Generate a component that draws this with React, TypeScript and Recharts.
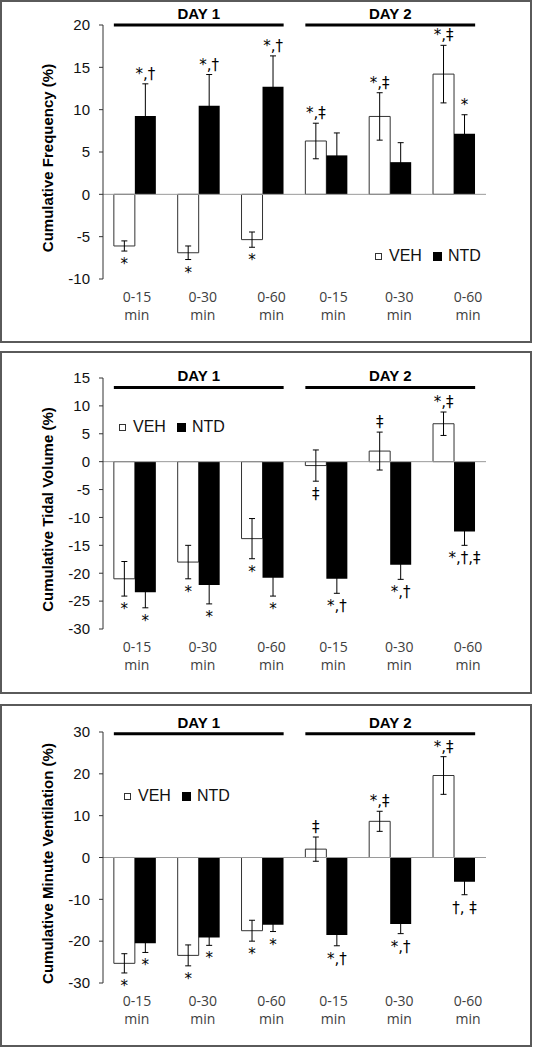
import React from 'react';
import {
  BarChart, Bar, XAxis, YAxis, ErrorBar, LabelList, ReferenceLine, Legend
} from 'recharts';

// categories: three cumulative windows on each of two days
const SLOTS = ['d1-15', 'd1-30', 'd1-60', 'd2-15', 'd2-30', 'd2-60'];
const TIME_LABELS = ['0-15', '0-30', '0-60', '0-15', '0-30', '0-60'];
const SERIES = ['VEH', 'NTD'];
const DAYS = [
  { label: 'DAY 1', from: 'd1-15', to: 'd1-60', count: 3 },
  { label: 'DAY 2', from: 'd2-15', to: 'd2-60', count: 3 },
];

// Cumulative Frequency (%)
const FREQ_VEH = [-6.1, -6.9, -5.35, 6.3, 9.2, 14.2];
const FREQ_VEH_ERR = [0.6, 0.8, 0.9, 2.1, 2.8, 3.4];
const FREQ_NTD = [9.25, 10.45, 12.7, 4.6, 3.8, 7.15];
const FREQ_NTD_ERR = [3.8, 3.7, 3.65, 2.65, 2.3, 2.25];
const FREQ_VEH_MARKS = ['*', '*', '*', '*,‡', '*,‡', '*,‡'];
const FREQ_NTD_MARKS = ['*,†', '*,†', '*,†', '', '', '*'];
const FREQ_TICKS = [-10, -5, 0, 5, 10, 15, 20];

// Cumulative Tidal Volume (%)
const VT_VEH = [-21.0, -18.0, -13.8, -0.7, 1.9, 6.8];
const VT_VEH_ERR = [3.1, 3.0, 3.6, 2.8, 3.4, 2.1];
const VT_NTD = [-23.4, -22.1, -20.8, -21.0, -18.5, -12.5];
const VT_NTD_ERR = [2.8, 3.4, 3.3, 2.6, 2.6, 2.5];
const VT_VEH_MARKS = ['*', '*', '*', '‡', '‡', '*,‡'];
const VT_NTD_MARKS = ['*', '*', '*', '*,†', '*,†', '*,†,‡'];
const VT_TICKS = [-30, -25, -20, -15, -10, -5, 0, 5, 10, 15];

// Cumulative Minute Ventilation (%)
const VE_VEH = [-25.3, -23.4, -17.5, 2.0, 8.65, 19.6];
const VE_VEH_ERR = [2.3, 2.5, 2.5, 2.9, 2.4, 4.5];
const VE_NTD = [-20.5, -19.1, -16.1, -18.5, -15.9, -5.8];
const VE_NTD_ERR = [2.2, 1.9, 1.6, 2.6, 2.3, 3.1];
const VE_VEH_MARKS = ['*', '*', '*', '‡', '*,‡', '*,‡'];
const VE_NTD_MARKS = ['*', '*', '*', '*,†', '*,†', '†, ‡'];
const VE_TICKS = [-30, -20, -10, 0, 10, 20, 30];

const PANELS = [
  {
    title: 'Cumulative Frequency (%)',
    veh: FREQ_VEH, vehErr: FREQ_VEH_ERR, ntd: FREQ_NTD, ntdErr: FREQ_NTD_ERR,
    vehMarks: FREQ_VEH_MARKS, ntdMarks: FREQ_NTD_MARKS,
    ticks: FREQ_TICKS, domain: [-10, 20], dayY: 20,
    top: 0, margin: { top: 25, right: 49, bottom: 20, left: 43 },
    legend: { left: 375, top: 247 },
  },
  {
    title: 'Cumulative Tidal Volume (%)',
    veh: VT_VEH, vehErr: VT_VEH_ERR, ntd: VT_NTD, ntdErr: VT_NTD_ERR,
    vehMarks: VT_VEH_MARKS, ntdMarks: VT_NTD_MARKS,
    ticks: VT_TICKS, domain: [-30, 15], dayY: 13.3,
    top: 351, margin: { top: 27, right: 49, bottom: 21, left: 43 },
    legend: { left: 119, top: 67 },
  },
  {
    title: 'Cumulative Minute Ventilation (%)',
    veh: VE_VEH, vehErr: VE_VEH_ERR, ntd: VE_NTD, ntdErr: VE_NTD_ERR,
    vehMarks: VE_VEH_MARKS, ntdMarks: VE_NTD_MARKS,
    ticks: VE_TICKS, domain: [-30, 30], dayY: 29.6,
    top: 704, margin: { top: 28, right: 49, bottom: 20, left: 43 },
    legend: { left: 124, top: 83 },
  },
];

const ARIAL = '"Liberation Sans", Arial, sans-serif';
const CALIBRI = '"Open Sans", "Liberation Sans", sans-serif';
const MARK_FONT = '"DejaVu Sans", "Liberation Sans", sans-serif';
const SPAN_INSET = 0.17; // day bars start at the first bar edge, not the category edge
const TICK_NUDGE = [2, 4, 9, 7, 9, 14];

const SlotTick = (props: any) => {
  const { x, y, payload } = props;
  let i = payload?.index;
  if (i == null) i = SLOTS.indexOf(payload?.value);
  const cx = x + (TICK_NUDGE[i] ?? 0);
  return (
    <g>
      <text x={cx} y={y + 23} textAnchor="middle" fontSize={14} fill="#404040" fontFamily={CALIBRI}>
        {TIME_LABELS[i]}
      </text>
      <text x={cx} y={y + 41} textAnchor="middle" fontSize={14} fill="#404040" fontFamily={CALIBRI}>
        min
      </text>
    </g>
  );
};

const AxisTitle = (props: any) => {
  const vb = props.viewBox || props;
  const x = vb.x + 4;
  const y = vb.y + vb.height / 2 + 6;
  return (
    <text
      x={x} y={y} transform={`rotate(-90 ${x} ${y})`}
      textAnchor="middle" dominantBaseline="central"
      fontSize={15} fontWeight={700} fill="#000" fontFamily={ARIAL}
    >
      {props.text}
    </text>
  );
};

// the segment runs between band centres; stretch it out to the outer bar edges
const daySpanShape = (count: number) => (p: any) => {
  const cat = (p.x2 - p.x1) / (count - 1);
  const ext = cat * (0.5 - SPAN_INSET);
  return (
    <line
      x1={p.x1 - ext} y1={p.y1} x2={p.x2 + ext} y2={p.y2}
      stroke={p.stroke} strokeWidth={p.strokeWidth}
    />
  );
};

const markRenderer = (vals: number[], errs: number[], marks: string[]) => (p: any) => {
  let i = p.index;
  if (i == null) i = vals.indexOf(p.value);
  const text = marks[i];
  if (!text) return null;
  const vb = p.viewBox || p;
  const v = vals[i];
  const y0 = Math.min(vb.y, vb.y + vb.height);
  const y1 = Math.max(vb.y, vb.y + vb.height);
  const perUnit = (y1 - y0) / Math.abs(v);
  const zero = v >= 0 ? y1 : y0;
  const cx = vb.x + vb.width / 2;
  let baseline;
  if (v >= 0) {
    baseline = zero - (v + errs[i]) * perUnit - 5;
  } else {
    baseline = zero - (v - errs[i]) * perUnit + 18;
  }
  return (
    <text x={cx} y={baseline} textAnchor="middle" fontSize={15} fill="#000" fontFamily={MARK_FONT}>
      {text}
    </text>
  );
};

const LegendContent = (props: any) => {
  const items = [...(props.payload || [])].sort(
    (a: any, b: any) => SERIES.indexOf(a.value) - SERIES.indexOf(b.value)
  );
  return (
    <div style={{ display: 'flex', alignItems: 'center', height: 18, fontFamily: ARIAL, fontSize: 16, color: '#111' }}>
      {items.map((e: any, i: number) => {
        const hollow = e.color === '#fff';
        return (
          <span key={i} style={{ display: 'flex', alignItems: 'center', marginRight: i === 0 ? 11 : 0 }}>
            <span
              style={{
                display: 'inline-block', boxSizing: 'border-box',
                width: hollow ? 7 : 9, height: hollow ? 7 : 9,
                background: hollow ? '#fff' : '#000',
                border: hollow ? '1px solid #333' : 'none',
                marginRight: hollow ? 7 : 6,
              }}
            />
            {e.value}
          </span>
        );
      })}
    </div>
  );
};

function Panel({ cfg }: { cfg: any }) {
  const rows = SLOTS.map((slot, i) => ({
    slot,
    veh: cfg.veh[i],
    vehErr: cfg.vehErr[i],
    ntd: cfg.ntd[i],
    ntdErr: cfg.ntdErr[i],
  }));

  return (
    <div
      style={{
        position: 'absolute', left: 0, top: cfg.top, width: 532, height: 343,
        boxSizing: 'border-box', border: '2px solid #5a5a5a', background: '#fff',
      }}
    >
      <div style={{ position: 'absolute', left: -2, top: -2 }}>
        <BarChart width={535} height={343} data={rows} margin={cfg.margin} barCategoryGap="17%" barGap={0}>
          <XAxis
            dataKey="slot" axisLine={false} tickLine={false} tickSize={0} tickMargin={0}
            height={44} interval={0} tick={<SlotTick />}
          />
          <YAxis
            domain={cfg.domain} ticks={cfg.ticks} interval={0} width={60} allowDataOverflow
            tickSize={4} tickMargin={9}
            axisLine={{ stroke: '#333' }} tickLine={{ stroke: '#333' }}
            tick={{ fill: '#111', fontSize: 15, fontFamily: ARIAL }}
            label={<AxisTitle text={cfg.title} />}
          />
          <ReferenceLine y={0} stroke="#9a9a9a" strokeWidth={1} />
          {DAYS.map((d) => (
            <ReferenceLine
              key={d.label}
              segment={[{ x: d.from, y: cfg.dayY }, { x: d.to, y: cfg.dayY }]}
              stroke="#000" strokeWidth={3} ifOverflow="visible"
              shape={daySpanShape(d.count)}
              label={{ value: d.label, position: 'top', offset: 6, fill: '#000', fontSize: 15, fontWeight: 700, fontFamily: ARIAL }}
            />
          ))}
          <Legend
            layout="horizontal" verticalAlign="middle" align="center"
            wrapperStyle={{ left: cfg.legend.left, top: cfg.legend.top, width: 'auto' }}
            content={<LegendContent />}
          />
          <Bar dataKey="veh" name={SERIES[0]} fill="#fff" stroke="#333" strokeWidth={1} isAnimationActive={false}>
            <ErrorBar dataKey="vehErr" width={3} stroke="#000" strokeWidth={1} direction="y" />
            <LabelList dataKey="veh" content={markRenderer(cfg.veh, cfg.vehErr, cfg.vehMarks)} />
          </Bar>
          <Bar dataKey="ntd" name={SERIES[1]} fill="#000" isAnimationActive={false}>
            <ErrorBar dataKey="ntdErr" width={3} stroke="#000" strokeWidth={1} direction="y" />
            <LabelList dataKey="ntd" content={markRenderer(cfg.ntd, cfg.ntdErr, cfg.ntdMarks)} />
          </Bar>
        </BarChart>
      </div>
    </div>
  );
}

export default function App() {
  return (
    <div style={{ position: 'absolute', left: 0, top: 0, width: 535, height: 1048, background: '#fff' }}>
      {PANELS.map((cfg) => (
        <Panel key={cfg.title} cfg={cfg} />
      ))}
    </div>
  );
}
